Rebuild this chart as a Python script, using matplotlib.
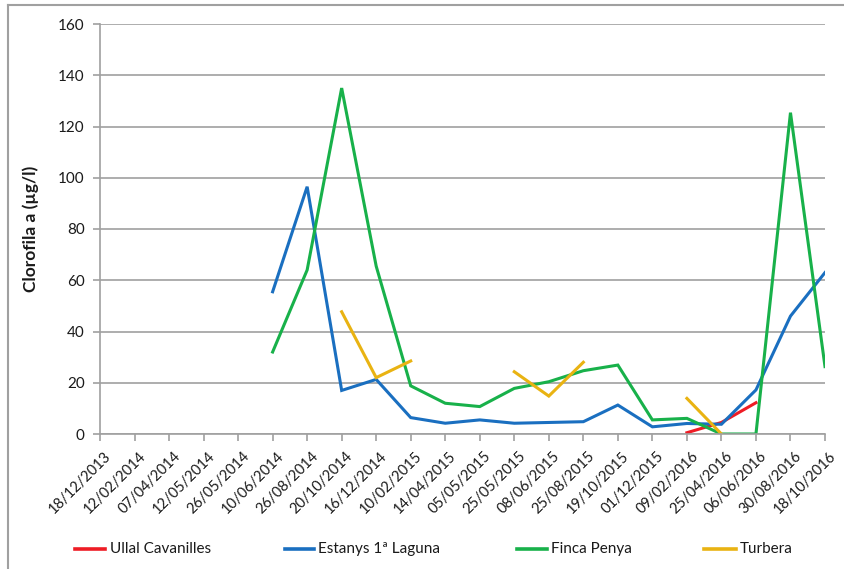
import numpy as np
import matplotlib
matplotlib.use("Agg")
import matplotlib.pyplot as plt
import matplotlib.transforms as mtransforms
from matplotlib.lines import Line2D

plt.rcParams['font.family'] = ['Lato', 'DejaVu Sans']

dates = ["18/12/2013", "12/02/2014", "07/04/2014", "12/05/2014", "26/05/2014",
         "10/06/2014", "26/08/2014", "20/10/2014", "16/12/2014", "10/02/2015",
         "14/04/2015", "05/05/2015", "25/05/2015", "08/06/2015", "25/08/2015",
         "19/10/2015", "01/12/2015", "09/02/2016", "25/04/2016", "06/06/2016",
         "30/08/2016", "18/10/2016"]
nan = np.nan
ullal = [nan]*17 + [0.5, 4.5, 12.2, nan, nan]
estanys = [nan]*5 + [55.5, 96.5, 17.0, 21.3, 6.4, 4.2, 5.5, 4.2, 4.5, 4.8,
                     11.3, 2.8, 4.1, 3.8, 17.2, 46.0, 63.0]
finca = [nan]*5 + [32.0, 64.0, 135.0, 65.5, 18.8, 12.0, 10.7, 17.8, 20.4, 24.7,
                   26.9, 5.5, 6.1, 0.0, 0.0, 125.4, 26.3]
turbera = [nan]*7 + [47.7, 22.0, 28.5, nan, nan, 24.3, 14.8, 28.0,
                     nan, nan, 13.9, 0.0, nan, nan, nan]

series = [("Ullal Cavanilles", ullal, "#ee1c25"),
          ("Estanys 1ª Laguna", estanys, "#1a6fc0"),
          ("Finca Penya", finca, "#18b14a"),
          ("Turbera", turbera, "#e9b312")]

W, H = 845, 569
fig = plt.figure(figsize=(W/100, H/100), dpi=100)
ax = fig.add_axes([100/W, 1-434/H, 725/W, 410/H])

x = np.arange(len(dates))
for name, vals, col in series:
    ax.plot(x, vals, color=col, lw=2.2, label=name, solid_joinstyle='miter')

ax.set_xlim(0, len(dates)-1)
ax.set_ylim(0, 160)
ax.set_yticks(np.arange(0, 161, 20))
ax.yaxis.grid(True, color='#a0a0a0', lw=1.2)
ax.set_axisbelow(True)
for s in ['top', 'right']:
    ax.spines[s].set_visible(False)
for s in ['left', 'bottom']:
    ax.spines[s].set_color('#a0a0a0')
    ax.spines[s].set_linewidth(1.2)
ax.tick_params(axis='both', colors='#a0a0a0', length=5, width=1.2,
               labelcolor='#1a1a1a', labelsize=11)
ax.tick_params(axis='y', pad=6)
ax.set_xticks(x)
ax.set_xticklabels(dates, rotation=45, ha='right', va='top',
                   rotation_mode='anchor', fontsize=10.5)
ax.tick_params(axis='x', pad=6)
offset = mtransforms.ScaledTranslation(4/100, 0, fig.dpi_scale_trans)
for lab in ax.get_xticklabels():
    lab.set_transform(lab.get_transform() + offset)
ax.set_ylabel("Clorofila a (µg/l)", fontsize=12.5, fontweight='bold',
              color='#1a1a1a', labelpad=14)

# legend (manual layout)
leg_y = 1 - 549/H
leg_items = [(75, 105, 110), (285, 314, 318), (517, 547, 551), (704, 736, 740)]
for (name, _, col), (x0, x1, xt) in zip(series, leg_items):
    fig.add_artist(Line2D([x0/W, x1/W], [leg_y, leg_y], color=col, lw=2.6,
                          transform=fig.transFigure))
    fig.text(xt/W, leg_y, name, ha='left', va='center', fontsize=11,
             color='#1a1a1a')

# border
fig.add_artist(Line2D([8/W, 8/W], [0, 1-5/H], color='#a0a0a0', lw=1.5,
                      transform=fig.transFigure))
fig.add_artist(Line2D([8/W, 1], [1-5/H, 1-5/H], color='#a0a0a0', lw=1.5,
                      transform=fig.transFigure))

fig.savefig("out.png", dpi=100, facecolor='white')
